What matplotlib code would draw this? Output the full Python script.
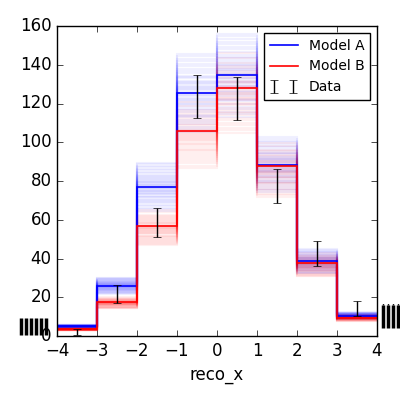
import numpy as np
import matplotlib
matplotlib.use("Agg")
import matplotlib.pyplot as plt

plt.style.use("classic")

# ---- data ----
bin_edges = [-4, -3, -2, -1, 0, 1, 2, 3, 4]
model_a = [5, 26, 77, 125.5, 134.5, 88.5, 38.5, 10.5]
model_b = [3.5, 17.5, 57, 106, 128, 87.5, 37.5, 9.5]
data_x = [-3.5, -2.5, -1.5, -0.5, 0.5, 1.5, 2.5, 3.5]
data_y = [2, 21.5, 58.5, 123.5, 122.5, 77.5, 42.5, 14.3]
data_err = [1.4, 4.6, 7.6, 11.2, 11.2, 8.9, 6.5, 3.8]

# systematic variation scale factors
var_a = [0.84, 0.85, 0.86, 0.87, 0.88, 0.89, 0.9, 0.905, 0.91, 0.92, 0.93, 0.935,
         0.94, 0.95, 0.955, 0.96, 0.965, 0.97, 0.975, 0.98, 0.985, 0.99, 0.995,
         1.0, 1.005, 1.01, 1.015, 1.02, 1.025, 1.03, 1.035, 1.04, 1.045, 1.05,
         1.06, 1.065, 1.07, 1.08, 1.09, 1.1, 1.11, 1.12, 1.13, 1.14, 1.15, 1.16]
var_b = [0.82, 0.83, 0.84, 0.85, 0.86, 0.87, 0.88, 0.89, 0.9, 0.905, 0.91, 0.92,
         0.93, 0.935, 0.94, 0.95, 0.955, 0.96, 0.965, 0.97, 0.975, 0.98, 0.985,
         0.99, 0.995, 1.0, 1.005, 1.01, 1.02, 1.025, 1.03, 1.04, 1.05, 1.06,
         1.07, 1.08, 1.09, 1.1, 1.12, 1.14]

# marks drawn outside the axes
under_x = [-4.9, -4.775, -4.65, -4.525, -4.4, -4.275]
under_lo = [0.5, 0.5, 0.5, 0.5, 0.5, 0.5]
under_hi = [9.5, 9.5, 9.5, 9.5, 9.5, 9.5]
over_x = [4.15, 4.275, 4.4, 4.525, 4.65]
over_lo = [4, 4, 4, 4, 4]
over_hi = [16, 16, 16, 16, 16]
over_top = [18.5, 18.5, 18.5, 18.5, 18.5]

fig = plt.figure(figsize=(4, 4), dpi=100, facecolor="white")
ax = fig.add_axes([0.1425, 0.16, 0.8, 0.775])
ax.set_facecolor("white")

edges = np.array(bin_edges, dtype=float)
a = np.array(model_a)
b = np.array(model_b)
for f in var_a:
    ax.stairs(a * f, edges, baseline=None, color="blue", alpha=0.06, lw=1.5)
for f in var_b:
    ax.stairs(b * f, edges, baseline=None, color="red", alpha=0.06, lw=1.5)

ax.stairs(a, edges, baseline=None, color="blue", lw=1.2, label="Model A")
ax.stairs(b, edges, baseline=None, color="red", lw=1.2, label="Model B")
ax.errorbar(data_x, data_y, yerr=data_err, fmt="none", ecolor="black",
            capsize=3, elinewidth=1, label="Data")

ax.vlines(under_x, under_lo, under_hi, colors="black", lw=2.5, clip_on=False)
ax.vlines(over_x, over_lo, over_hi, colors="black", lw=2.5, clip_on=False)
ax.vlines(over_x, over_hi, over_top, colors="black", lw=1, linestyles=":", clip_on=False)

ax.set_xlim(-4, 4)
ax.set_ylim(0, 160)
ax.set_xticks(range(-4, 5))
ax.set_yticks(range(0, 161, 20))
ax.set_xlabel("reco_x", fontsize=12)
ax.tick_params(labelsize=12)
ax.legend(loc="upper right", fontsize=10)

fig.savefig("out.png", dpi=100, facecolor="white")
